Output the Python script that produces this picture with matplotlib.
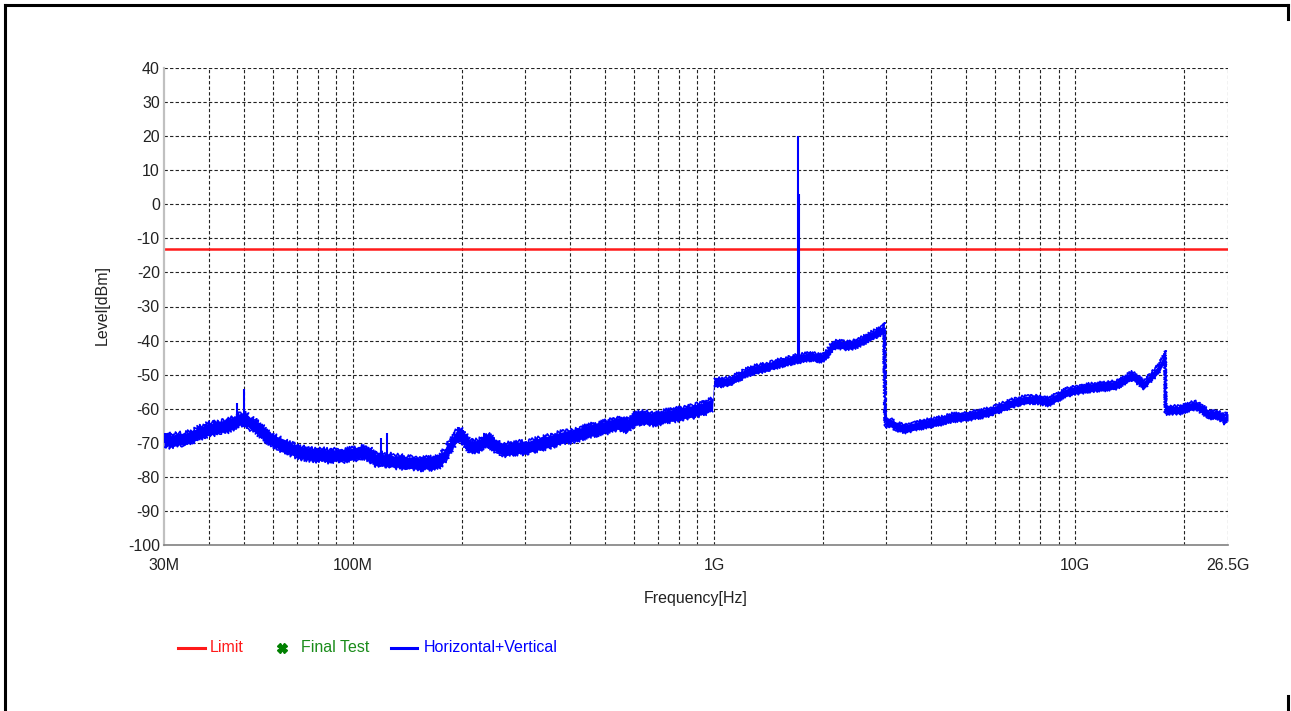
import numpy as np
import matplotlib
matplotlib.use('Agg')
import matplotlib.pyplot as plt
from matplotlib.lines import Line2D
from matplotlib.ticker import FixedLocator, NullFormatter

plt.rcParams['font.family'] = ['Liberation Sans Narrow', 'Liberation Sans', 'DejaVu Sans']
plt.rcParams['axes.unicode_minus'] = False

# scan trace, frequency in MHz, level in dBm
freq_mhz = [
    30, 30.6, 31.3, 32.2, 33.0, 34.0, 35.4, 36.5, 37.5, 38.6, 39.7, 41.0, 42.0, 43.2, 44.3,
    45.2, 46.0, 47.0, 48.5, 49.0, 50.5, 51.9, 53.5, 55.3, 57.5, 60.1, 62.5, 64.8, 67.5, 71.3,
    74.5, 78.5, 82.0, 86.4, 91.0, 95.0, 98.1, 102, 105, 108.5, 111.4, 114, 116, 119, 122,
    126, 130, 134.9, 140, 146, 153.2, 160, 167, 174, 178, 182, 185.5, 190, 194, 197.7,
    201, 205, 210, 214.7, 220, 225, 230, 236.2, 243, 250, 258, 266.6, 278, 290, 302,
    314.8, 330, 350, 370, 390.7, 410, 430, 455, 482.2, 510, 537.4, 555, 572.8, 590, 610.3,
    640, 680, 710, 739, 770, 800, 839, 870, 900, 930, 960, 990.7,
    1000, 1040, 1100, 1160, 1230, 1300, 1400, 1450, 1517, 1600, 1702, 1780, 1850, 1920, 1996,
    2060, 2127, 2200, 2300, 2400, 2478, 2580, 2700, 2800, 2925, 2960,
    2980, 3050, 3100, 3200, 3364, 3500, 3702, 3900, 4125, 4350, 4568, 4800, 5091, 5400, 5673,
    6000, 6282, 6650, 7000, 7400, 7798, 8100, 8473, 8850, 9206, 9600, 10065, 10700, 11430, 12200,
    12983, 13700, 14380, 14900, 15520, 16100, 16752, 17200, 17500, 17740,
    17800, 18500, 19400, 20500, 21610, 22500, 23480, 24500, 25510, 25900, 26200, 26500,
]
level_dbm = [
    -69.5, -68.8, -69.6, -69.2, -68.9, -69.0, -68.3, -67.8, -67.0, -66.8, -66.0, -65.9, -65.5, -65.3, -65.0,
    -64.9, -64.4, -64.0, -63.2, -63.0, -63.0, -64.2, -65.0, -66.2, -67.8, -69.3, -70.2, -71.0, -71.8, -72.8,
    -73.2, -73.6, -73.4, -74.0, -73.5, -73.7, -73.4, -73.2, -72.8, -73.0, -73.3, -74.5, -75.0, -74.6, -75.2,
    -75.0, -75.6, -75.4, -76.0, -75.8, -76.2, -75.9, -76.0, -75.3, -74.2, -72.8, -71.3, -69.5, -68.0, -67.5,
    -68.0, -69.3, -70.8, -71.3, -71.0, -70.5, -69.6, -69.2, -70.0, -71.0, -71.8, -72.0, -71.6, -71.4, -71.5,
    -70.8, -70.3, -69.6, -68.8, -68.2, -67.8, -67.2, -66.4, -65.8, -65.2, -64.3, -64.4, -65.0, -63.8, -62.8,
    -62.6, -63.0, -62.6, -62.2, -61.9, -61.6, -61.0, -60.8, -60.3, -60.0, -59.4, -58.8,
    -52.0, -52.3, -52.0, -50.8, -49.4, -48.5, -47.8, -47.2, -46.6, -46.0, -45.3, -45.0, -44.6, -45.0, -45.0,
    -43.8, -41.5, -41.0, -41.4, -41.3, -40.9, -40.0, -38.8, -38.0, -37.0, -35.8,
    -64.2, -64.0, -64.3, -65.2, -65.9, -65.5, -64.8, -64.3, -63.9, -63.2, -62.6, -62.4, -62.1, -61.6, -61.2,
    -60.3, -59.5, -58.5, -57.7, -57.4, -57.2, -57.5, -58.0, -56.8, -55.8, -55.0, -54.5, -54.0, -53.6, -53.4,
    -53.0, -51.5, -50.3, -51.5, -53.0, -51.0, -49.2, -47.5, -46.0, -44.0,
    -60.4, -60.3, -60.4, -59.5, -59.0, -60.2, -61.8, -61.8, -62.4, -63.5, -62.3, -62.6,
]

# narrow emissions on top of the noise floor
spike_mhz = [30.1, 47.8, 49.9, 119.5, 124.2, 1713, 1716]
spike_base = [-70.0, -63.5, -63.0, -75.0, -75.0, -45.3, -45.3]
spike_top = [-67.0, -58.4, -54.3, -68.6, -67.0, 20.0, 3.0]

limit_dbm = -13
x_ticks_mhz = [30, 100, 1000, 10000, 26500]
x_tick_labels = ['30M', '100M', '1G', '10G', '26.5G']
x_grid_mhz = [40, 50, 60, 70, 80, 90, 100, 200, 300, 400, 500, 600, 700, 800, 900, 1000,
              2000, 3000, 4000, 5000, 6000, 7000, 8000, 9000, 10000, 20000, 26500]
y_ticks = list(range(-100, 41, 10))

f = np.array(freq_mhz) * 1e6
lvl = np.array(level_dbm)
band = np.where(f < 1e9, 1.7, 1.1)

fig = plt.figure(figsize=(12.91, 7.11), dpi=100)
ax = fig.add_axes([164 / 1291, 1 - 545 / 711, (1228 - 164) / 1291, (545 - 68) / 711])
ax.set_xscale('log')
ax.set_xlim(30e6, 26.5e9)
ax.set_ylim(-100, 40)

for g in x_grid_mhz:
    ax.axvline(g * 1e6, color='#222222', lw=0.8, dashes=(3, 2), zorder=1)
for yv in y_ticks[1:]:
    ax.axhline(yv, color='#222222', lw=0.8, dashes=(3, 2), zorder=1)

ax.axhline(limit_dbm, color='#ff1a1a', lw=1.8, zorder=2)

# noise band of the sweep, ragged edges (rougher below 1 GHz)
ax.fill_between(f, lvl - band, lvl + band, color='#0000ff', lw=0, zorder=3)
low = f < 1e9
for sel, rough in ((low, 2.2), (~low, 1.5)):
    for edge in (lvl - band, lvl + band):
        ln, = ax.plot(f[sel], edge[sel], color='#0000ff', lw=1.2, zorder=3, solid_capstyle='butt')
        ln.set_sketch_params(scale=rough, length=2.5, randomness=2)
ax.vlines(np.array(spike_mhz) * 1e6, spike_base, spike_top, color='#0000ff', lw=1.5, zorder=3)

ax.xaxis.set_major_locator(FixedLocator([v * 1e6 for v in x_ticks_mhz]))
ax.xaxis.set_minor_formatter(NullFormatter())
ax.set_xticklabels(x_tick_labels)
ax.set_yticks(y_ticks)
ax.tick_params(axis='both', which='both', length=0, labelsize=11.5, colors='#222222')
ax.tick_params(axis='x', pad=9)
ax.tick_params(axis='y', pad=3)
ax.spines['top'].set_visible(False)
ax.spines['right'].set_visible(False)
ax.spines['left'].set_color('#c0c0c0')
ax.spines['left'].set_linewidth(1.6)
ax.spines['bottom'].set_color('#808080')
ax.spines['bottom'].set_linewidth(1.2)

fig.text(696 / 1291, 1 - 599 / 711, 'Frequency[Hz]', ha='center', va='center', fontsize=11.5, color='#222222')
fig.text(102 / 1291, 1 - 305 / 711, 'Level[dBm]', ha='center', va='center', rotation=90, fontsize=11.5, color='#222222')

# legend row
ly = 1 - 648 / 711
fig.add_artist(Line2D([178 / 1291, 205 / 1291], [ly, ly], color='#ff1a1a', lw=2.2))
fig.text(210 / 1291, ly, 'Limit', color='#ff1a1a', va='center', fontsize=11.5)
fig.add_artist(Line2D([282 / 1291], [ly], marker='X', color='#008000', markersize=7, lw=0))
fig.text(301 / 1291, ly, 'Final Test', color='#1a8c1a', va='center', fontsize=11.5)
fig.add_artist(Line2D([391 / 1291, 417 / 1291], [ly, ly], color='#0000ff', lw=2.2))
fig.text(424 / 1291, ly, 'Horizontal+Vertical', color='#0000ff', va='center', fontsize=11.5)

# outer frame
fw = 2.2
fig.add_artist(Line2D([5 / 1291, 5 / 1291], [0, 1 - 5 / 711], color='black', lw=fw, solid_capstyle='projecting'))
fig.add_artist(Line2D([5 / 1291, 1288 / 1291], [1 - 5 / 711, 1 - 5 / 711], color='black', lw=fw, solid_capstyle='projecting'))
fig.add_artist(Line2D([1288 / 1291, 1288 / 1291], [1 - 5 / 711, 1 - 19 / 711], color='black', lw=fw))
fig.add_artist(Line2D([1288 / 1291, 1288 / 1291], [1 - 696 / 711, 0], color='black', lw=fw))

fig.savefig('out.png', dpi=100)
